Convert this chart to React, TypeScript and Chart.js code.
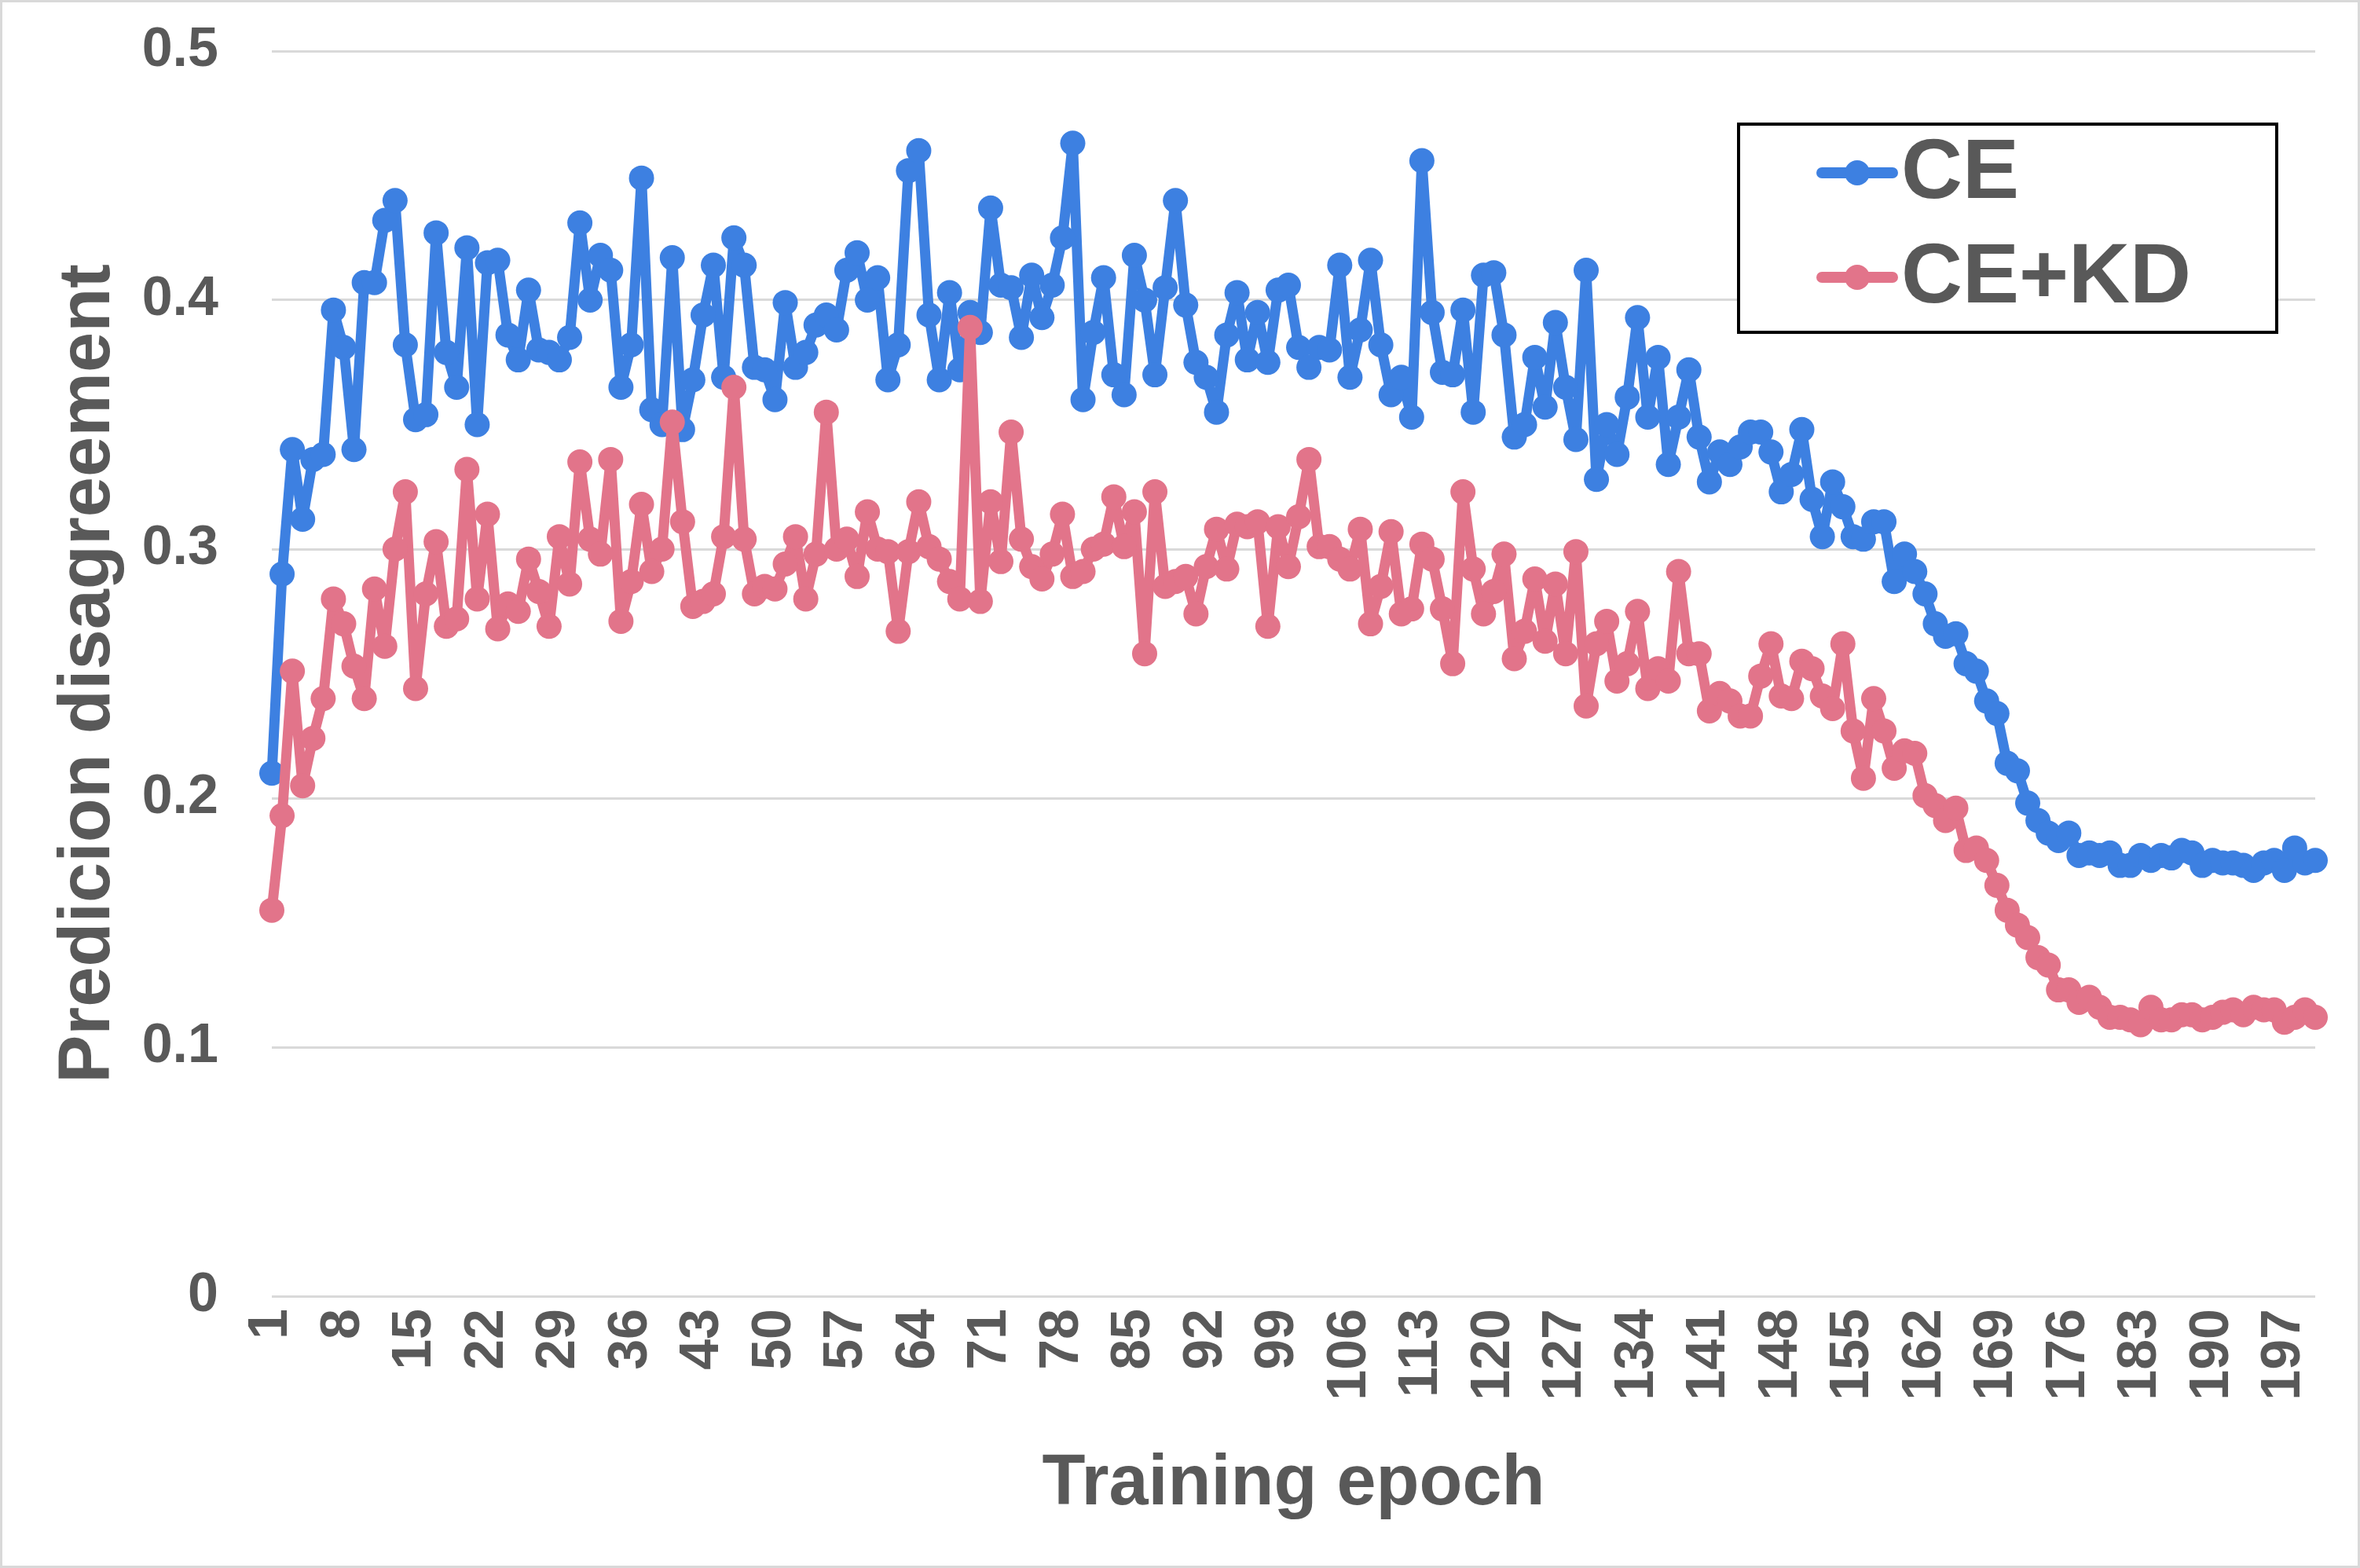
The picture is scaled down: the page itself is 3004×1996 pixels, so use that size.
import React, { useEffect, useRef } from "react";
import { Chart, registerables } from "chart.js";

Chart.register(...registerables);

const EPOCHS: string[] = Array.from({ length: 200 }, (_, i) => String(i + 1));

const CE: number[] = [
  0.210, 0.290, 0.340, 0.312, 0.336, 0.338, 0.396, 0.381, 0.340, 0.407,
  0.407, 0.432, 0.440, 0.382, 0.352, 0.354, 0.427, 0.379, 0.365, 0.421,
  0.350, 0.415, 0.416, 0.386, 0.376, 0.404, 0.380, 0.379, 0.376, 0.385,
  0.431, 0.400, 0.418, 0.412, 0.365, 0.382, 0.449, 0.356, 0.350, 0.417,
  0.348, 0.368, 0.394, 0.414, 0.369, 0.425, 0.414, 0.373, 0.372, 0.360,
  0.399, 0.373, 0.379, 0.390, 0.394, 0.388, 0.412, 0.419, 0.400, 0.409,
  0.368, 0.382, 0.452, 0.460, 0.394, 0.368, 0.403, 0.372, 0.395, 0.387,
  0.437, 0.406, 0.405, 0.385, 0.410, 0.393, 0.406, 0.425, 0.463, 0.360,
  0.387, 0.409, 0.370, 0.362, 0.418, 0.400, 0.370, 0.405, 0.440, 0.398,
  0.375, 0.369, 0.355, 0.386, 0.403, 0.376, 0.395, 0.375, 0.404, 0.406,
  0.381, 0.373, 0.381, 0.380, 0.414, 0.369, 0.388, 0.416, 0.382, 0.362,
  0.369, 0.353, 0.456, 0.395, 0.371, 0.370, 0.396, 0.355, 0.410, 0.411,
  0.386, 0.345, 0.350, 0.377, 0.357, 0.391, 0.365, 0.344, 0.412, 0.328,
  0.350, 0.338, 0.361, 0.393, 0.353, 0.377, 0.334, 0.353, 0.372, 0.345,
  0.327, 0.339, 0.334, 0.341, 0.347, 0.347, 0.339, 0.323, 0.330, 0.348,
  0.320, 0.305, 0.327, 0.317, 0.305, 0.304, 0.311, 0.311, 0.287, 0.298,
  0.291, 0.282, 0.270, 0.265, 0.266, 0.254, 0.251, 0.239, 0.234, 0.214,
  0.211, 0.198, 0.191, 0.186, 0.183, 0.186, 0.177, 0.178, 0.177, 0.178,
  0.173, 0.173, 0.177, 0.175, 0.177, 0.176, 0.179, 0.178, 0.173, 0.175,
  0.174, 0.174, 0.173, 0.171, 0.174, 0.175, 0.171, 0.180, 0.174, 0.175,
];

const CE_KD: number[] = [
  0.155, 0.193, 0.251, 0.205, 0.224, 0.240, 0.280, 0.270, 0.253, 0.240,
  0.284, 0.261, 0.300, 0.323, 0.244, 0.282, 0.303, 0.269, 0.272, 0.332,
  0.280, 0.314, 0.268, 0.278, 0.275, 0.296, 0.283, 0.269, 0.305, 0.286,
  0.335, 0.304, 0.298, 0.336, 0.271, 0.287, 0.318, 0.291, 0.300, 0.351,
  0.311, 0.277, 0.279, 0.282, 0.305, 0.365, 0.304, 0.282, 0.285, 0.284,
  0.294, 0.305, 0.280, 0.298, 0.355, 0.300, 0.304, 0.289, 0.315, 0.300,
  0.299, 0.267, 0.299, 0.319, 0.301, 0.296, 0.287, 0.280, 0.389, 0.279,
  0.319, 0.295, 0.347, 0.304, 0.293, 0.288, 0.298, 0.314, 0.289, 0.291,
  0.300, 0.302, 0.321, 0.301, 0.315, 0.258, 0.323, 0.285, 0.287, 0.289,
  0.274, 0.293, 0.308, 0.292, 0.310, 0.309, 0.311, 0.269, 0.309, 0.293,
  0.313, 0.336, 0.301, 0.301, 0.296, 0.292, 0.308, 0.270, 0.285, 0.307,
  0.274, 0.276, 0.302, 0.296, 0.276, 0.254, 0.323, 0.292, 0.274, 0.283,
  0.298, 0.256, 0.267, 0.288, 0.263, 0.286, 0.258, 0.299, 0.237, 0.262,
  0.271, 0.247, 0.254, 0.275, 0.244, 0.252, 0.247, 0.291, 0.258, 0.258,
  0.235, 0.242, 0.239, 0.233, 0.233, 0.249, 0.262, 0.241, 0.240, 0.255,
  0.252, 0.241, 0.236, 0.262, 0.227, 0.208, 0.240, 0.227, 0.212, 0.219,
  0.218, 0.201, 0.197, 0.191, 0.196, 0.179, 0.180, 0.175, 0.165, 0.155,
  0.149, 0.144, 0.136, 0.133, 0.123, 0.123, 0.118, 0.120, 0.116, 0.112,
  0.112, 0.111, 0.109, 0.116, 0.111, 0.111, 0.113, 0.113, 0.111, 0.112,
  0.114, 0.115, 0.113, 0.116, 0.115, 0.115, 0.110, 0.112, 0.115, 0.112,
];

const SERIES_NAMES = ["CE", "CE+KD"];
const COLORS = ["#3D80E1", "#E2748A"];
const TEXT_COLOR = "#595959";
const FONT_FAMILY = "'Liberation Sans', Arial, Helvetica, sans-serif";

const W = 3004;
const H = 1996;
const AREA_LEFT = 346;
const AREA_RIGHT = 2947;
const AREA_TOP = 65;
const AREA_BOTTOM = 1650;

const boxLegend = {
  id: "boxLegend",
  afterDraw(chart: any) {
    const ctx = chart.ctx;
    const x0 = 2213, y0 = 158, x1 = 2898, y1 = 423;
    ctx.save();
    ctx.fillStyle = "#ffffff";
    ctx.fillRect(x0, y0, x1 - x0, y1 - y0);
    ctx.lineWidth = 4;
    ctx.strokeStyle = "#000000";
    ctx.strokeRect(x0, y0, x1 - x0, y1 - y0);
    const rows = [220, 353];
    chart.data.datasets
      .slice()
      .sort((a: any, b: any) => a.legendIndex - b.legendIndex)
      .forEach((ds: any, i: number) => {
        const y = rows[i];
        ctx.strokeStyle = ds.borderColor;
        ctx.lineWidth = 14;
        ctx.lineCap = "round";
        ctx.beginPath();
        ctx.moveTo(2319, y);
        ctx.lineTo(2409, y);
        ctx.stroke();
        ctx.fillStyle = ds.borderColor;
        ctx.beginPath();
        ctx.arc(2364, y, 16, 0, Math.PI * 2);
        ctx.fill();
        ctx.fillStyle = TEXT_COLOR;
        ctx.font = `bold 108px ${FONT_FAMILY}`;
        ctx.textBaseline = "middle";
        ctx.textAlign = "left";
        ctx.fillText(ds.label, 2420, y + 2);
      });
    ctx.restore();
  },
};

export default function App() {
  const canvasRef = useRef<HTMLCanvasElement | null>(null);

  useEffect(() => {
    if (!canvasRef.current) return;
    Chart.defaults.font.family = FONT_FAMILY;
    Chart.defaults.color = TEXT_COLOR;
    const lineStyle = (color: string) => ({
      borderColor: color,
      backgroundColor: color,
      pointBackgroundColor: color,
      pointBorderColor: color,
      borderWidth: 13,
      borderJoinStyle: "round",
      borderCapStyle: "round",
      pointRadius: 16,
      pointBorderWidth: 0,
      tension: 0,
    });
    const chart = new Chart(canvasRef.current, {
      type: "line",
      data: {
        labels: EPOCHS,
        datasets: [
          { label: SERIES_NAMES[0], data: CE, ...lineStyle(COLORS[0]), order: 1, legendIndex: 0 } as any,
          { label: SERIES_NAMES[1], data: CE_KD, ...lineStyle(COLORS[1]), order: 0, legendIndex: 1 } as any,
        ],
      },
      options: {
        animation: false,
        responsive: true,
        maintainAspectRatio: false,
        devicePixelRatio: 1,
        events: [],
        layout: {
          padding: { left: 0, top: AREA_TOP, right: W - AREA_RIGHT, bottom: 0 },
        },
        plugins: {
          legend: { display: false },
          tooltip: { enabled: false },
        },
        scales: {
          x: {
            type: "category",
            offset: false,
            grid: { display: false, drawTicks: false },
            border: { display: false },
            ticks: {
              autoSkip: false,
              minRotation: 90,
              maxRotation: 90,
              padding: 16,
              color: TEXT_COLOR,
              font: { size: 70, weight: "bold" },
              callback: (_v: any, index: number) =>
                index % 7 === 0 ? EPOCHS[index] : null,
            },
            title: {
              display: true,
              text: "Training epoch",
              color: TEXT_COLOR,
              font: { size: 90, weight: "bold" },
              padding: { top: 0, bottom: 52 },
            },
            afterFit: (scale: any) => {
              scale.height = H - AREA_BOTTOM;
              scale.paddingLeft = 0;
              scale.paddingRight = 0;
            },
          },
          y: {
            min: 0,
            max: 0.5,
            grid: { color: "#d9d9d9", lineWidth: 3, drawTicks: false },
            border: { display: false },
            ticks: {
              stepSize: 0.1,
              padding: 68,
              color: TEXT_COLOR,
              font: { size: 70, weight: "bold" },
              callback: (v: any) => (Number(v) === 0 ? "0" : Number(v).toFixed(1)),
            },
            title: {
              display: true,
              text: "Predicion disagreement",
              color: TEXT_COLOR,
              font: { size: 92, weight: "bold" },
              padding: { top: 58, bottom: 0 },
            },
            afterFit: (scale: any) => {
              scale.width = AREA_LEFT;
              scale.paddingTop = 0;
              scale.paddingBottom = 0;
            },
          },
        },
      },
      plugins: [boxLegend],
    } as any);
    return () => chart.destroy();
  }, []);

  return (
    <div style={{ position: "absolute", left: 0, top: 0, width: W, height: H, background: "#ffffff" }}>
      <canvas ref={canvasRef} />
      <div
        style={{
          position: "absolute",
          left: 0,
          top: 0,
          width: W,
          height: H,
          boxSizing: "border-box",
          border: "3px solid #d9d9d9",
          pointerEvents: "none",
        }}
      />
    </div>
  );
}
